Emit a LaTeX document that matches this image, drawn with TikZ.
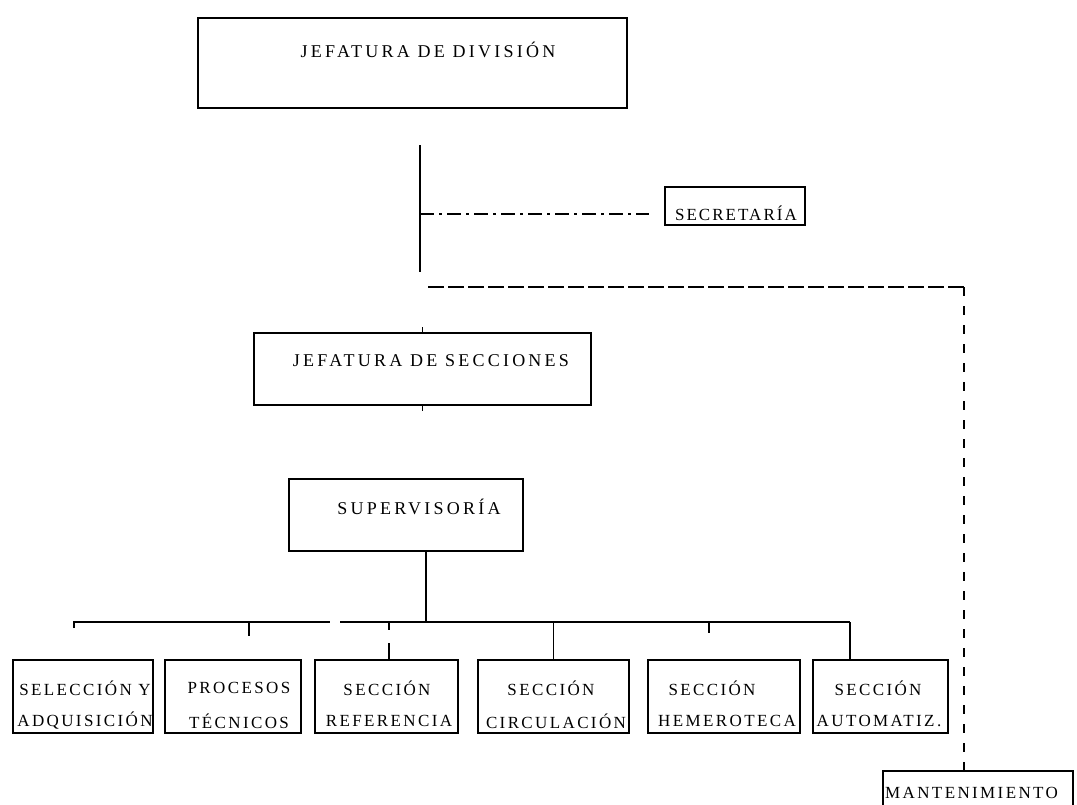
\documentclass[tikz,border=0pt]{standalone}
\usepackage{fontspec}
\setmainfont{Liberation Serif}
\newfontfamily\lsp[LetterSpace=18]{Liberation Serif}
\newfontfamily\lsq[LetterSpace=14]{Liberation Serif}
\newfontfamily\lsr[LetterSpace=12]{Liberation Serif}
\begin{document}
\begin{tikzpicture}[x=1pt,y=-1pt,
  box/.style={draw, line width=1.5pt, inner sep=0pt},
  lbl/.style={font=\lsp\fontsize{18}{20}\selectfont, inner sep=0pt},
  slbl/.style={font=\lsq\fontsize{17}{19}\selectfont, inner sep=0pt},
  ln/.style={line width=1.5pt},
  dashdot/.style={line width=1.5pt, dash pattern=on 14pt off 5pt on 3pt off 5pt},
  dashline/.style={line width=1.5pt, dash pattern=on 9pt off 10pt},
  hdash/.style={line width=1.5pt, dash pattern=on 16pt off 4pt}]
\useasboundingbox (0,0) rectangle (1077,804);
% top boxes
\node[box, minimum width=429pt, minimum height=90pt] (div) at (412.5,63) {};
\node[lbl] (divt) at (428,50) {JEFATURA DE DIVISIÓN};
\node[box, minimum width=140pt, minimum height=38pt] (secr) at (735,206) {};
\node[inner sep=0pt, font=\lsr\fontsize{17}{19}\selectfont] (secrt) at (736,213) {SECRETARÍA};
\node[box, minimum width=337pt, minimum height=72pt] (sec) at (422.5,369) {};
\node[lbl] (sect) at (431,361) {JEFATURA DE SECCIONES};
\node[box, minimum width=234pt, minimum height=72pt] (sup) at (406,515) {};
\node[lbl] (supt) at (419,507) {SUPERVISORÍA};
% bottom row
\node[box, minimum width=140pt, minimum height=73pt] (b1) at (83,696.5) {};
\node[slbl] (b1a) at (85,688) {SELECCIÓN Y};
\node[slbl] (b1b) at (85,721) {ADQUISICIÓN};
\node[box, minimum width=136pt, minimum height=73pt] (b2) at (233,696.5) {};
\node[slbl] (b2a) at (239,688) {PROCESOS};
\node[slbl] (b2b) at (239,721) {TÉCNICOS};
\node[box, minimum width=143pt, minimum height=73pt] (b3) at (386.5,696.5) {};
\node[slbl] (b3a) at (387,688) {SECCIÓN};
\node[slbl] (b3b) at (389,721) {REFERENCIA};
\node[box, minimum width=151pt, minimum height=73pt] (b4) at (553.5,696.5) {};
\node[slbl] (b4a) at (551,688) {SECCIÓN};
\node[slbl] (b4b) at (556,721) {CIRCULACIÓN};
\node[box, minimum width=152pt, minimum height=73pt] (b5) at (724,696.5) {};
\node[slbl] (b5a) at (712,688) {SECCIÓN};
\node[slbl] (b5b) at (727,721) {HEMEROTECA};
\node[box, minimum width=135pt, minimum height=73pt] (b6) at (880.5,696.5) {};
\node[slbl] (b6a) at (878,688) {SECCIÓN};
\node[slbl] (b6b) at (879,721) {AUTOMATIZ.};
\node[box, minimum width=190pt, minimum height=60pt] (mant) at (978,801) {};
\node[slbl, anchor=west] (mantt) at (885,793) {MANTENIMIENTO};
% connectors
\coordinate (v1) at (420,145);
\coordinate (v2) at (420,272);
\draw[ln] (v1) -- (v2);
\coordinate (sj) at (420,214);
\draw[dashdot] (sj) -- ([shift={(-15,8)}]secr.west);
\coordinate (dj) at (428,287);
\coordinate (dc) at (964,287);
\draw[hdash] (dj) -- (dc);
\draw[dashline] (dc) -- ([xshift=-14pt]mant.north);
\draw[ln] (sec.north) -- ++(0,-5);
\draw[ln] (sec.south) -- ++(0,5);
\coordinate (bus) at (426,622);
\draw[ln] ([xshift=20pt]sup.south) -- (bus);
\coordinate (busL) at (74,622);
\coordinate (busR) at (850,622);
\draw[ln] (74,628) -- (busL) -- (330,622);
\draw[ln] (340,622) -- (busR);
\draw[ln] (249,622) -- (249,636);
\draw[ln] (389,622) -- (389,630);
\draw[ln] (389,643) -- (b3.north -| 389,0);
\draw[ln] (553.5,622) -- (b4.north);
\draw[ln] (709,622) -- (709,633);
\draw[ln] (busR) -- (b6.north -| busR);
\end{tikzpicture}
\end{document}
